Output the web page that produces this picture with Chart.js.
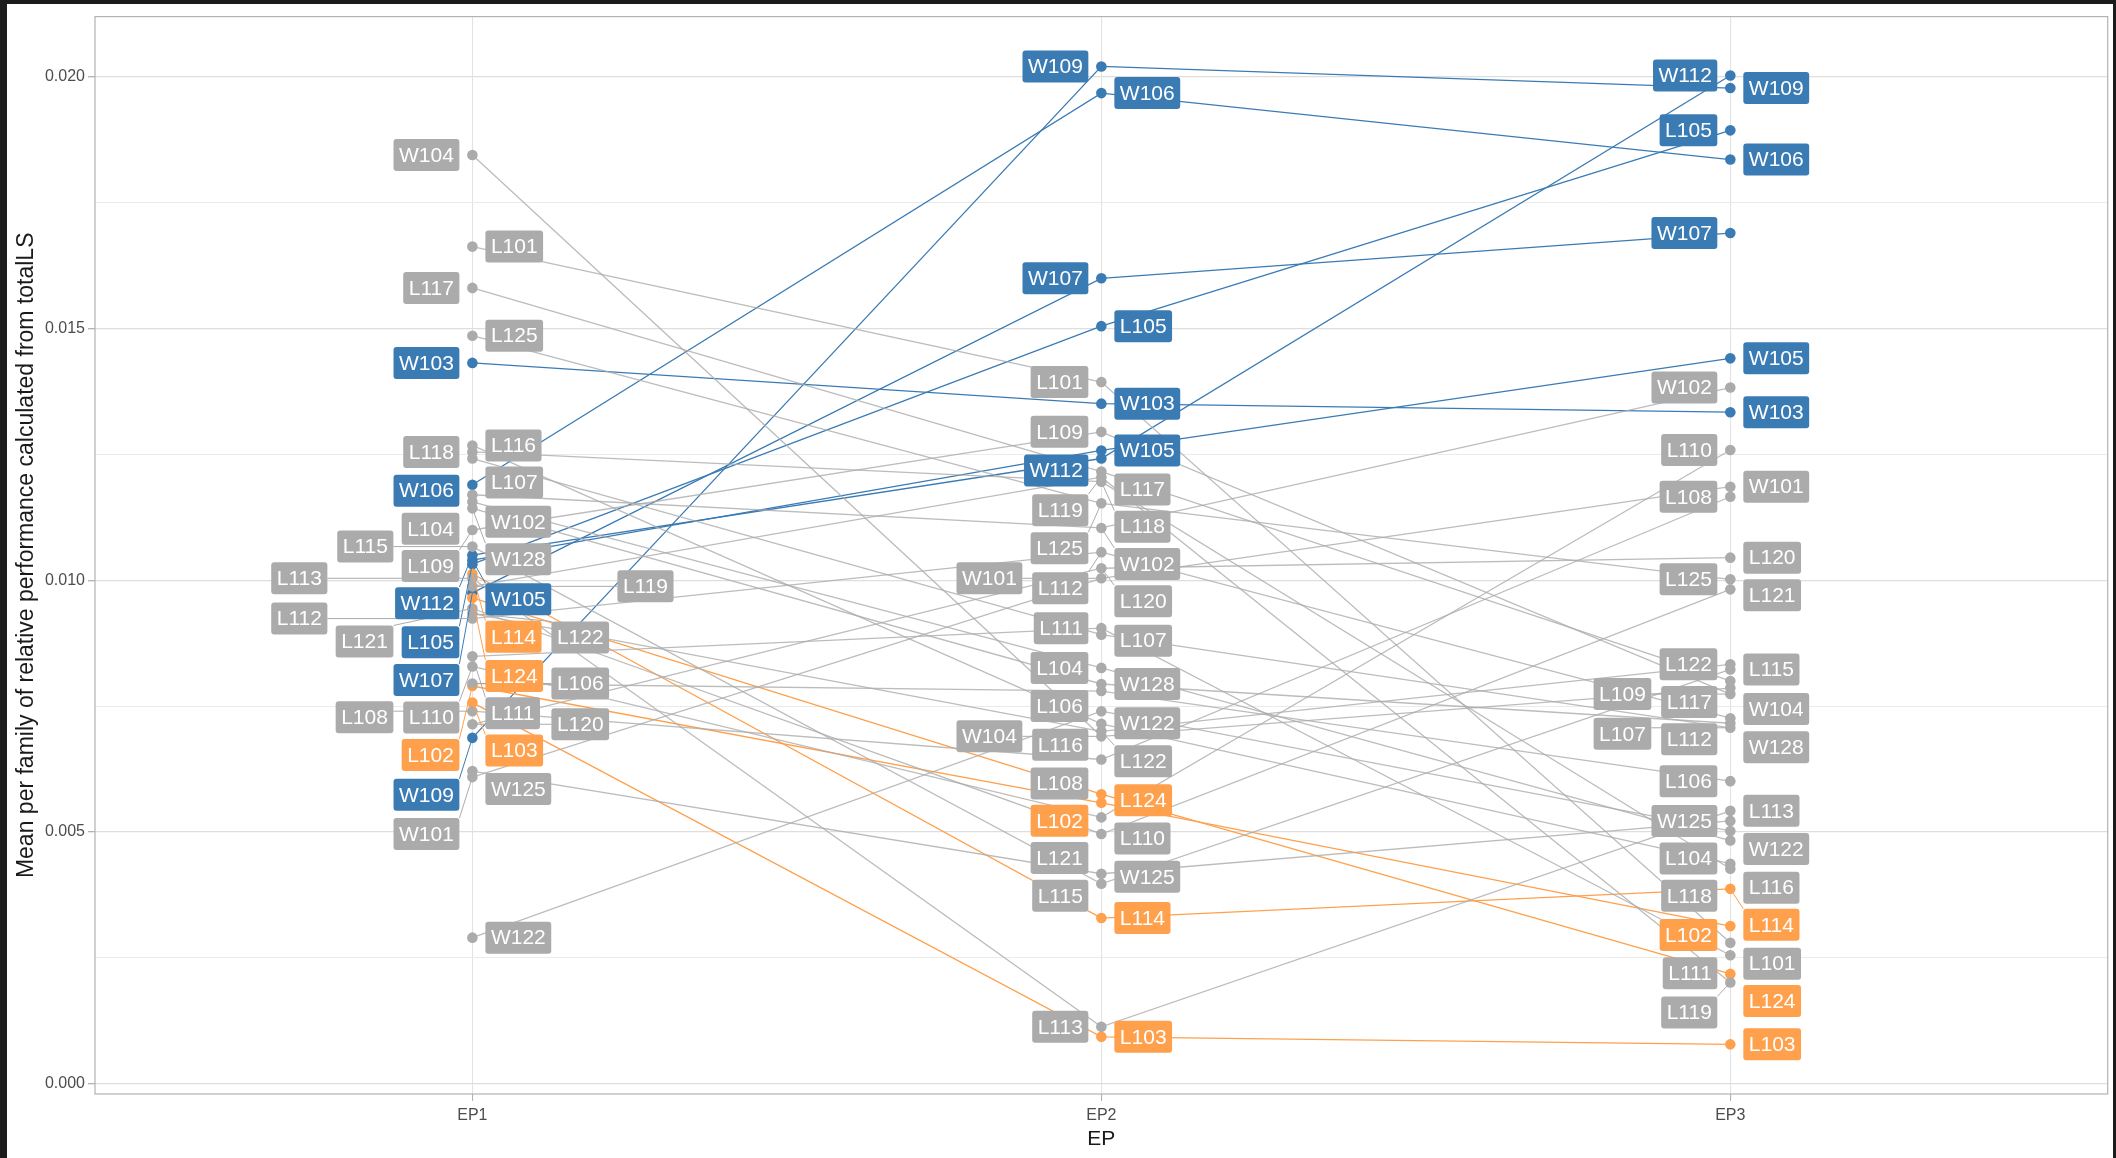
<!DOCTYPE html>
<html>
<head>
<meta charset="utf-8">
<script src="https://cdn.jsdelivr.net/npm/chart.js"></script>
<style>
  html, body { margin: 0; padding: 0; background: #1c1c1c; }
  #wrap { position: absolute; left: 7px; top: 4px; width: 2106px; height: 1154px; background: #fff; }
</style>
</head>
<body>
<div id="wrap"><canvas id="slopeChart" width="2106" height="1154"></canvas></div>
<script>
// values, one array per EP
const episodes = ['EP1', 'EP2', 'EP3'];
const families = ['L101', 'L102', 'L103', 'L104', 'L105', 'L106', 'L107', 'L108', 'L109', 'L110',
                  'L111', 'L112', 'L113', 'L114', 'L115', 'L116', 'L117', 'L118', 'L119', 'L120',
                  'L121', 'L122', 'L124', 'L125', 'W101', 'W102', 'W103', 'W104', 'W105', 'W106',
                  'W107', 'W109', 'W112', 'W122', 'W125', 'W128'];
const ep1 = [0.01663, 0.00790, 0.00757, 0.01156, 0.01032, 0.00795, 0.01242, 0.00740, 0.01100, 0.00829,
             0.00849, 0.00924, 0.01004, 0.01013, 0.01067, 0.01268, 0.01581, 0.01255, 0.00988, 0.00714,
             0.00944, 0.00934, 0.00965, 0.01486, 0.00609, 0.01170, 0.01432, 0.01845, 0.01040, 0.01190,
             0.00975, 0.00687, 0.01050, 0.00290, 0.00621, 0.01143];
const ep2 = [0.01394, 0.00558, 0.00093, 0.00826, 0.01505, 0.00780, 0.00892, 0.00644, 0.01295, 0.00529,
             0.00905, 0.01056, 0.00113, 0.00329, 0.00397, 0.00715, 0.01216, 0.01196, 0.01205, 0.01024,
             0.00496, 0.00700, 0.00575, 0.01153, 0.01004, 0.01104, 0.01351, 0.00690, 0.01258, 0.01968,
             0.01600, 0.02021, 0.01242, 0.00740, 0.00417, 0.00794];
const ep3 = [0.00280, 0.00313, 0.00078, 0.00483, 0.01894, 0.00601, 0.00707, 0.01166, 0.00774, 0.01259,
             0.00255, 0.00726, 0.00542, 0.00387, 0.00823, 0.00437, 0.00800, 0.00427, 0.00201, 0.01045,
             0.00982, 0.00833, 0.00218, 0.01002, 0.01186, 0.01383, 0.01334, 0.00786, 0.01441, 0.01836,
             0.01690, 0.01978, 0.02003, 0.00502, 0.00522, 0.00716];
const blueFamilies = ['L105', 'W103', 'W105', 'W106', 'W107', 'W109', 'W112'];
const orangeFamilies = ['L102', 'L103', 'L114', 'L124'];
const yTicks = [0, 0.005, 0.010, 0.015, 0.020];

const BLUE = '#3B7BB4', ORANGE = '#FFA04D', GREY = '#ABABAB';

function familyColor(name) {
    if (blueFamilies.includes(name)) return BLUE;
    if (orangeFamilies.includes(name)) return ORANGE;
    return GREY;
}
function rank(name) {
    if (blueFamilies.includes(name)) return 2;
    if (orangeFamilies.includes(name)) return 1;
    return 0;
}

// grey lines underneath, coloured ones on top
const order = families.map((f, i) => i).sort((a, b) => rank(families[a]) - rank(families[b]));
const datasets = order.map(i => {
    const col = familyColor(families[i]);
    return {
        label: families[i],
        data: [ep1[i], ep2[i], ep3[i]].map((v, e) => ({ x: e + 1, y: v })),
        borderColor: col === GREY ? 'rgba(171,171,171,0.8)' : col,
        backgroundColor: col,
        pointBackgroundColor: col,
        pointBorderWidth: 0,
        pointRadius: 5.3,
        borderWidth: 1.3,
        tension: 0
    };
});

const majorTick = v => yTicks.some(t => Math.abs(t - v) < 1e-9);
const minorTicks = yTicks.slice(0, -1).map((t, i) => (t + yTicks[i + 1]) / 2);

// ggrepel-like labels: greedy placement beside each point
const repelLabels = {
    id: 'repelLabels',
    afterDatasetsDraw(chart) {
        const { ctx, chartArea: area, scales: { x, y } } = chart;
        ctx.save();
        ctx.font = '21px "Liberation Sans", Arial, sans-serif';
        const boxes = [];
        const out = [];
        const gap = 5;
        episodes.forEach((ep, e) => {
            const px = x.getPixelForValue(e + 1);
            const items = chart.data.datasets.map(ds => ({
                name: ds.label, color: ds.backgroundColor, py: y.getPixelForValue(ds.data[e].y)
            }));
            items.sort((a, b) => a.py - b.py);
            items.forEach((it, k) => {
                const w = ctx.measureText(it.name).width + 11, h = 32;
                const pref = k % 2 ? 1 : -1;
                let best = null;
                for (let lane = 0; lane < 4; lane++) {
                    for (const side of [pref, -pref]) {
                        for (let dy = 0; dy <= 90; dy += 3) {
                            for (const s of dy ? [1, -1] : [1]) {
                                const cost = dy + lane * 40 + (side === pref ? 0 : 7);
                                if (best && cost >= best.cost) continue;
                                const cx = px + side * (13 + w / 2 + lane * 66);
                                const cy = it.py + s * dy;
                                const r = { l: cx - w / 2, r: cx + w / 2, t: cy - h / 2, b: cy + h / 2 };
                                if (r.l < area.left + 2 || r.r > area.right - 2 || r.t < area.top + 2 || r.b > area.bottom - 2) continue;
                                if (boxes.some(o => r.l < o.r + gap && r.r > o.l - gap && r.t < o.b + gap && r.b > o.t - gap)) continue;
                                best = { cost, r };
                            }
                        }
                    }
                }
                if (!best) return;
                boxes.push(best.r);
                out.push({ it, px, r: best.r });
            });
        });
        // segments
        out.forEach(({ it, px, r }) => {
            const nx = Math.max(r.l, Math.min(px, r.r));
            const ny = Math.max(r.t, Math.min(it.py, r.b));
            if (Math.hypot(nx - px, ny - it.py) > 18) {
                ctx.strokeStyle = it.color;
                ctx.lineWidth = 1;
                ctx.beginPath();
                ctx.moveTo(px, it.py);
                ctx.lineTo(nx, ny);
                ctx.stroke();
            }
        });
        // boxes and text
        out.forEach(({ it, r }) => {
            ctx.fillStyle = it.color;
            ctx.beginPath();
            ctx.roundRect(r.l, r.t, r.r - r.l, r.b - r.t, 3);
            ctx.fill();
            ctx.fillStyle = '#ffffff';
            ctx.textAlign = 'center';
            ctx.textBaseline = 'middle';
            ctx.fillText(it.name, (r.l + r.r) / 2, (r.t + r.b) / 2 + 1);
        });
        ctx.restore();
    },
    afterDraw(chart) {
        const { ctx, chartArea: a } = chart;
        ctx.save();
        ctx.strokeStyle = '#B3B3B3';
        ctx.lineWidth = 1.2;
        ctx.strokeRect(a.left, a.top, a.right - a.left, a.bottom - a.top);
        ctx.restore();
    }
};

const ctx = document.getElementById('slopeChart').getContext('2d');
new Chart(ctx, {
    type: 'line',
    data: { datasets: datasets },
    options: {
        responsive: false,
        animation: false,
        devicePixelRatio: 1,
        layout: { padding: { top: 9, right: 1, left: 0, bottom: 0 } },
        plugins: { legend: { display: false }, tooltip: { enabled: false } },
        scales: {
            x: {
                type: 'linear',
                min: 0.4,
                max: 3.6,
                afterBuildTicks: s => { s.ticks = episodes.map((e, i) => ({ value: i + 1 })); },
                afterFit: s => { s.height = 64; },
                border: { display: false },
                grid: { color: '#E3E3E3', lineWidth: 1.1, tickColor: '#B3B3B3', tickLength: 7 },
                ticks: {
                    autoSkip: false, maxRotation: 0, padding: 5, color: '#4D4D4D',
                    font: { family: '"Liberation Sans", Arial', size: 16 },
                    callback: v => episodes[v - 1]
                },
                title: {
                    display: true, text: 'EP', color: '#1A1A1A', padding: { top: 0, bottom: 6 },
                    font: { family: '"Liberation Sans", Arial', size: 21 }
                }
            },
            y: {
                type: 'linear',
                min: -0.000206,
                max: 0.0212,
                afterBuildTicks: s => {
                    s.ticks = yTicks.concat(minorTicks).sort((a, b) => a - b).map(v => ({ value: v }));
                },
                afterFit: s => { s.width = 88; },
                border: { display: false },
                grid: {
                    color: c => (c.tick && majorTick(c.tick.value)) ? '#DEDEDE' : '#E9E9E9',
                    lineWidth: c => (c.tick && majorTick(c.tick.value)) ? 1.3 : 0.9,
                    tickColor: c => (c.tick && majorTick(c.tick.value)) ? '#B3B3B3' : 'rgba(0,0,0,0)',
                    tickLength: 7
                },
                ticks: {
                    autoSkip: false, padding: 3, color: '#4D4D4D',
                    font: { family: '"Liberation Sans", Arial', size: 16 },
                    callback: v => majorTick(v) ? v.toFixed(3) : ''
                },
                title: {
                    display: true,
                    text: 'Mean per family of relative performance calculated from totalLS',
                    color: '#1A1A1A', padding: { top: 6, bottom: 0 },
                    font: { family: '"Liberation Sans", Arial', size: 23 }
                }
            }
        }
    },
    plugins: [repelLabels]
});
</script>
</body>
</html>
